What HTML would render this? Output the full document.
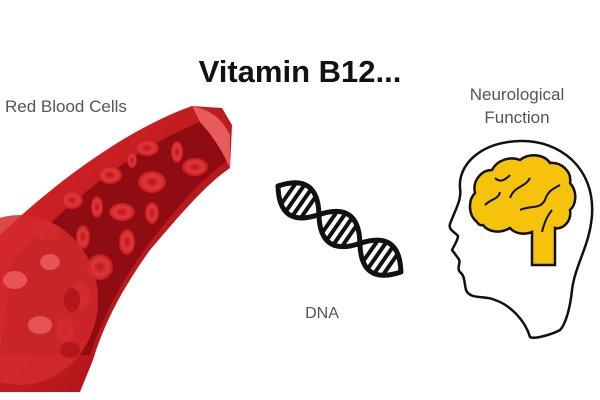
<!DOCTYPE html>
<html><head><meta charset="utf-8"><style>
html,body{margin:0;padding:0;background:#fff;}
svg{display:block}
</style></head><body>
<svg width="600" height="400" viewBox="0 0 600 400" xmlns="http://www.w3.org/2000/svg">
<defs>
<linearGradient id="vg" x1="0" y1="0" x2="1" y2="1">
<stop offset="0" stop-color="#d8262a"/><stop offset="1" stop-color="#a50f14"/>
</linearGradient>
<radialGradient id="cell" cx="0.5" cy="0.5" r="0.5">
<stop offset="0" stop-color="#b8141a"/><stop offset="0.6" stop-color="#e0383a"/><stop offset="1" stop-color="#c41a20"/>
</radialGradient>
</defs>
<rect width="600" height="400" fill="#fff"/>
<!-- vessel -->
<path d="M0,235 C60,178 130,128 192,106 L222,108 L232,125 L230,168 C205,185 180,215 150,250 C125,285 105,320 93,360 L80,392 L0,392 Z" fill="url(#vg)"/>
<path d="M12,262 C65,205 130,150 200,122 L222,130 L226,162 C200,180 175,210 148,245 C122,280 102,318 90,355 L0,355 Z" fill="#8e0c12"/>
<path d="M192,106 C210,110 222,118 230,135 L230,168 C222,150 212,135 200,122 Z" fill="#e85a5c"/>
<g fill="url(#cell)">
<ellipse cx="147" cy="148" rx="12" ry="8"/>
<ellipse cx="177" cy="152" rx="6" ry="11"/>
<ellipse cx="195" cy="167" rx="13" ry="9"/>
<ellipse cx="132" cy="160" rx="5" ry="8"/>
<ellipse cx="110" cy="175" rx="12" ry="9"/>
<ellipse cx="152" cy="182" rx="14" ry="11"/>
<ellipse cx="72" cy="200" rx="11" ry="9"/>
<ellipse cx="97" cy="207" rx="6" ry="11"/>
<ellipse cx="122" cy="212" rx="13" ry="9"/>
<ellipse cx="152" cy="213" rx="7" ry="11"/>
<ellipse cx="47" cy="232" rx="13" ry="9"/>
<ellipse cx="83" cy="237" rx="7" ry="12"/>
<ellipse cx="127" cy="242" rx="8" ry="13"/>
<ellipse cx="100" cy="267" rx="13" ry="13"/>
<ellipse cx="80" cy="295" rx="10" ry="14"/>
<ellipse cx="65" cy="330" rx="9" ry="13"/>
</g>
<ellipse cx="20" cy="300" rx="78" ry="85" fill="#d42a2e" opacity="0.85"/>
<ellipse cx="15" cy="280" rx="12" ry="9" fill="#e65457"/>
<ellipse cx="50" cy="262" rx="10" ry="8" fill="#e65457"/>
<ellipse cx="40" cy="325" rx="12" ry="9" fill="#e65457"/>
<ellipse cx="72" cy="300" rx="8" ry="12" fill="#b3161b"/>
<ellipse cx="70" cy="350" rx="10" ry="8" fill="#b3161b"/>
<!-- title -->
<text x="300" y="82" text-anchor="middle" font-family="Liberation Sans, sans-serif" font-weight="bold" font-size="31" fill="#111">Vitamin B12...</text>
<text x="5" y="112" font-family="Liberation Sans, sans-serif" font-size="17" fill="#555">Red Blood Cells</text>
<text x="517" y="100" text-anchor="middle" font-family="Liberation Sans, sans-serif" font-size="17" fill="#555">Neurological</text>
<text x="517" y="123" text-anchor="middle" font-family="Liberation Sans, sans-serif" font-size="17" fill="#555">Function</text>
<text x="322" y="318" text-anchor="middle" font-family="Liberation Sans, sans-serif" font-size="16" fill="#555">DNA</text>
<!-- DNA -->
<g transform="translate(278,186) rotate(35)">
<g stroke="#111" fill="none" stroke-width="5" stroke-linecap="round">
<path d="M0,0 Q25,-34 50,0 Q75,34 100,0 Q125,-34 150,0"/>
<path d="M0,0 Q25,34 50,0 Q75,-34 100,0 Q125,34 150,0"/>
</g>
<g stroke="#111" stroke-width="4">
<line x1="13" y1="-12" x2="13" y2="12"/><line x1="21" y1="-16" x2="21" y2="16"/><line x1="29" y1="-16" x2="29" y2="16"/><line x1="37" y1="-12" x2="37" y2="12"/>
<line x1="63" y1="-12" x2="63" y2="12"/><line x1="71" y1="-16" x2="71" y2="16"/><line x1="79" y1="-16" x2="79" y2="16"/><line x1="87" y1="-12" x2="87" y2="12"/>
<line x1="113" y1="-12" x2="113" y2="12"/><line x1="121" y1="-16" x2="121" y2="16"/><line x1="129" y1="-16" x2="129" y2="16"/><line x1="137" y1="-12" x2="137" y2="12"/>
</g>
</g>
<!-- head -->
<path d="M530,337 C525,320 510,305 495,300 C485,295 470,300 466,290 C464,282 465,276 460,272 C456,268 462,262 458,258 L452,250 C455,244 458,240 458,236 C455,232 448,230 450,224 C455,210 462,200 460,188 C458,165 480,142 520,141 C560,140 595,168 592,215 C590,245 575,265 572,290 C570,310 565,325 560,330 C555,333 535,340 530,337 Z" fill="#fff" stroke="#111" stroke-width="2.5"/>
<!-- brain -->
<path d="M477,222 C468,215 468,200 475,193 C472,180 482,170 492,170 C497,160 510,156 520,160 C530,152 545,155 550,163 C562,162 572,172 570,183 C578,192 576,205 570,210 C572,222 562,230 555,228 L555,265 L532,265 L532,232 C525,235 515,234 510,228 C500,234 488,232 483,225 C480,226 478,224 477,222 Z" fill="#f5c20c" stroke="#111" stroke-width="2.5"/>
<g stroke="#111" stroke-width="2" fill="none">
<path d="M485,205 C492,198 498,200 500,192"/>
<path d="M510,198 C515,185 525,188 530,178"/>
<path d="M520,210 C530,205 540,210 545,200 C548,190 555,188 560,185"/>
<path d="M542,232 C545,220 548,215 552,210"/>
<path d="M495,178 C500,183 505,180 510,175"/>
</g>
</svg>
</body></html>
